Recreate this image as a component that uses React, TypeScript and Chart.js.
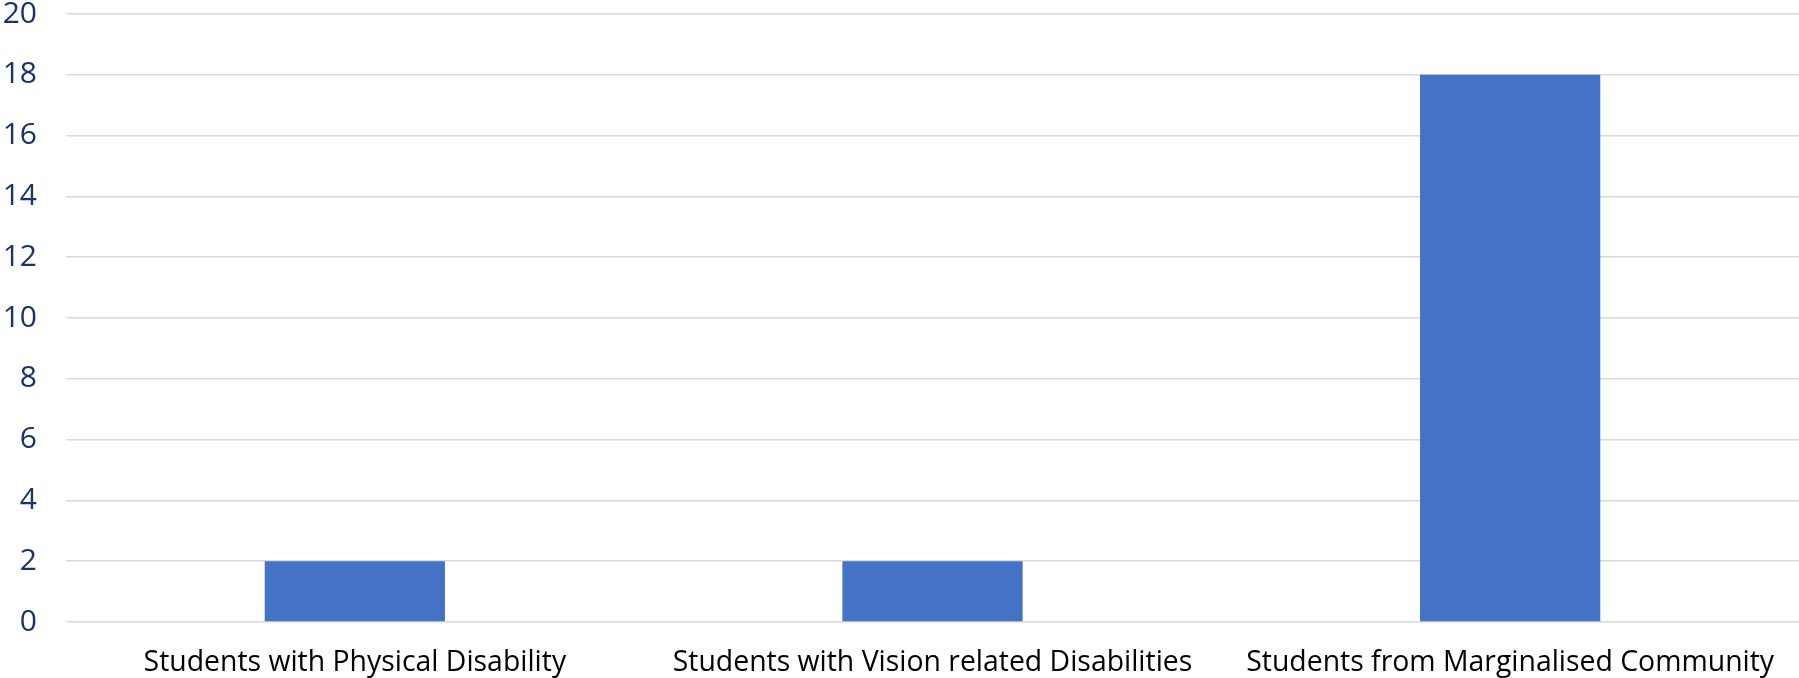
import React, { useEffect, useRef } from "react";
import { Chart, registerables } from "chart.js";

Chart.register(...registerables);

const categories = [
  "Students with Physical Disability",
  "Students with Vision related Disabilities",
  "Students from Marginalised Community",
];
const values = [2, 2, 18];
const yMin = 0;
const yMax = 20;
const yStep = 2;

export default function App() {
  const ref = useRef<HTMLCanvasElement | null>(null);

  useEffect(() => {
    document.body.style.margin = "0";
    const canvas = ref.current;
    if (!canvas) return;
    const chart = new Chart(canvas, {
      type: "bar",
      data: {
        labels: categories,
        datasets: [
          {
            data: values,
            backgroundColor: "#4472C4",
            borderWidth: 0,
            categoryPercentage: 1,
            barPercentage: 0.312,
          },
        ],
      },
      options: {
        animation: false,
        responsive: false,
        devicePixelRatio: 1,
        layout: { padding: { top: 14, right: 0, left: 0, bottom: 0 } },
        plugins: {
          legend: { display: false },
          tooltip: { enabled: false },
        },
        scales: {
          x: {
            grid: { display: false, drawTicks: false },
            border: { display: false },
            ticks: {
              color: "#000000",
              font: { family: "'Open Sans'", size: 28.4 },
              padding: 24,
              maxRotation: 0,
              autoSkip: false,
            },
            afterFit: (s: any) => {
              s.height = 56;
            },
          },
          y: {
            min: yMin,
            max: yMax,
            grid: { color: "#D9D9D9", lineWidth: 1.6, drawTicks: false },
            border: { display: false },
            ticks: {
              stepSize: yStep,
              color: "#18336E",
              font: { family: "'Open Sans'", size: 30 },
              padding: 29,
            },
            afterFit: (s: any) => {
              s.width = 66;
              s.paddingTop = 0;
              s.paddingBottom = 0;
            },
          },
        },
      },
    });
    return () => chart.destroy();
  }, []);

  return (
    <div style={{ width: 1799, height: 678, background: "#fff" }}>
      <canvas ref={ref} width={1799} height={678} style={{ display: "block" }} />
    </div>
  );
}
